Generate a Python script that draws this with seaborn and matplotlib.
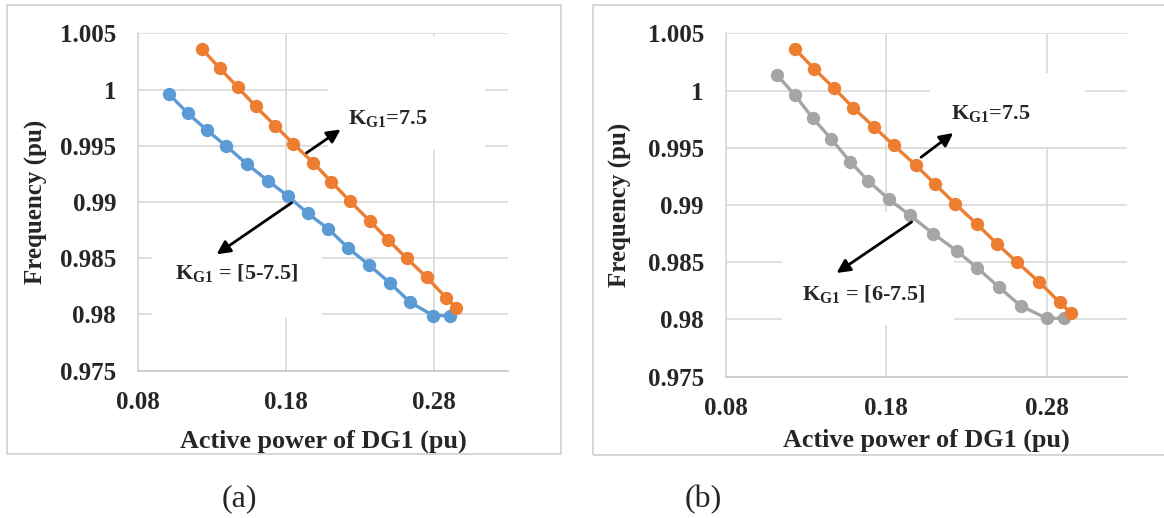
import matplotlib
matplotlib.use("Agg")
import matplotlib.pyplot as plt
from matplotlib.patches import Rectangle
import pandas as pd
import seaborn as sns

# ---- data -------------------------------------------------------------
# droop characteristic with fixed gain K_G1 = 7.5 (shared by both panels)
p_fixed = [0.1232, 0.1350, 0.1474, 0.1594, 0.1725, 0.1848, 0.1983, 0.2106,
           0.2230, 0.2368, 0.2492, 0.2616, 0.2752, 0.2882, 0.2950]
f_fixed = [1.0036, 1.0019, 1.0002, 0.9985, 0.9968, 0.9952, 0.9935, 0.9918,
           0.9901, 0.9883, 0.9866, 0.9850, 0.9833, 0.9815, 0.9806]

# adaptive gain K_G1 in [5, 7.5]
p_adapt_a = [0.1008, 0.1134, 0.1263, 0.1393, 0.1533, 0.1676, 0.1815, 0.1946,
             0.2086, 0.2221, 0.2361, 0.2503, 0.2638, 0.2796, 0.2909]
f_adapt_a = [0.9996, 0.9979, 0.9964, 0.9950, 0.9934, 0.9919, 0.9905, 0.9890,
             0.9876, 0.9859, 0.9844, 0.9828, 0.9811, 0.9799, 0.9799]

# adaptive gain K_G1 in [6, 7.5]
p_adapt_b = [0.1116, 0.1230, 0.1341, 0.1455, 0.1574, 0.1688, 0.1817, 0.1948,
             0.2093, 0.2239, 0.2368, 0.2505, 0.2638, 0.2801, 0.2909]
f_adapt_b = [1.0014, 0.9996, 0.9976, 0.9958, 0.9938, 0.9921, 0.9905, 0.9891,
             0.9875, 0.9860, 0.9845, 0.9828, 0.9812, 0.9801, 0.9801]

x_ticks = [0.08, 0.18, 0.28]
x_tick_labels = ["0.08", "0.18", "0.28"]
y_ticks = [0.975, 0.98, 0.985, 0.99, 0.995, 1.0, 1.005]
y_tick_labels = ["0.975", "0.98", "0.985", "0.99", "0.995", "1", "1.005"]

label_fixed = r"K$_{\mathbf{G1}}$=7.5"
label_a = r"K$_{\mathbf{G1}}$ = [5-7.5]"
label_b = r"K$_{\mathbf{G1}}$ = [6-7.5]"

# ---- style ------------------------------------------------------------
sns.set_theme(style="whitegrid")
plt.rcParams["font.family"] = ["Liberation Serif", "DejaVu Serif"]
plt.rcParams["mathtext.fontset"] = "custom"
plt.rcParams["mathtext.rm"] = "Liberation Serif:bold"
plt.rcParams["mathtext.bf"] = "Liberation Serif:bold"
plt.rcParams["mathtext.it"] = "Liberation Serif:bold"

BLUE = "#5b9bd5"
ORANGE = "#ed7d31"
GRAY = "#a5a5a5"
GRID = "#d9d9d9"

fig = plt.figure(figsize=(11.64, 5.18), dpi=100)
fig.patch.set_facecolor("white")

# outer chart frames
for x0, y0, w, h in [(0.0063, 0.1230, 0.4757, 0.8674),
                     (0.5094, 0.1216, 0.5100, 0.8687)]:
    fig.add_artist(Rectangle((x0, y0), w, h, transform=fig.transFigure,
                             facecolor="none", edgecolor="#d6d6d6", lw=1.4))

ax_a = fig.add_axes([0.1188, 0.2844, 0.3174, 0.6513])
ax_b = fig.add_axes([0.6237, 0.2728, 0.3442, 0.6629])


def draw_series(ax, p, f, color):
    df = pd.DataFrame({"p": p, "f": f})
    sns.lineplot(data=df, x="p", y="f", ax=ax, color=color, marker="o",
                 markersize=9.6, markeredgewidth=0, linewidth=2.4,
                 estimator=None, legend=False, zorder=3)


def style_axes(ax, ylabel_x, xlabel_y):
    ax.set_xlim(0.08, 0.33)
    ax.set_ylim(0.975, 1.005)
    ax.set_xticks(x_ticks)
    ax.set_xticklabels(x_tick_labels)
    ax.set_yticks(y_ticks)
    ax.set_yticklabels(y_tick_labels)
    ax.grid(True, color=GRID, lw=1.2)
    ax.set_axisbelow(True)
    ax.set_facecolor("white")
    for side in ("top", "right"):
        ax.spines[side].set_visible(False)
    ax.spines["left"].set_color(GRID)
    ax.spines["left"].set_linewidth(1.2)
    ax.spines["bottom"].set_color("#c8c8c8")
    ax.spines["bottom"].set_linewidth(1.2)
    ax.tick_params(axis="y", length=0, pad=16.0, labelsize=18)
    ax.tick_params(axis="x", length=0, pad=14.5, labelsize=18)
    for lab in ax.get_xticklabels() + ax.get_yticklabels():
        lab.set_fontweight("bold")
    ax.set_xlabel("Active power of DG1 (pu)", fontsize=18.8, fontweight="bold")
    ax.set_ylabel("Frequency (pu)", fontsize=18, fontweight="bold")
    ax.xaxis.set_label_coords(0.5, xlabel_y)
    ax.xaxis.label.set_va("top")
    ax.yaxis.set_label_coords(ylabel_x, 0.5)


def white_box(ax, x0, y0, x1, y1):
    # white text-box background that hides the gridlines behind a label
    ax.add_patch(Rectangle((x0, y0), x1 - x0, y1 - y0, transform=ax.transAxes,
                           facecolor="white", edgecolor="none", zorder=1))


def label_with_arrow(ax, text, text_xy, tail, head):
    ax.text(*text_xy, text, fontsize=16, fontweight="bold", ha="center",
            va="center", zorder=5)
    ax.annotate("", xy=head, xytext=tail,
                arrowprops=dict(arrowstyle="-|>", color="black", lw=2.0,
                                mutation_scale=20, shrinkA=0, shrinkB=0),
                zorder=5)


# ---- panel (a) -------------------------------------------------------
style_axes(ax_a, -0.2445, -0.1743)
white_box(ax_a, 0.5135, 0.6541, 0.9386, 0.9920)
white_box(ax_a, 0.0371, 0.1562, 0.4973, 0.4911)
draw_series(ax_a, p_adapt_a, f_adapt_a, BLUE)
draw_series(ax_a, p_fixed, f_fixed, ORANGE)
label_with_arrow(ax_a, label_fixed, (0.2486, 0.99741),
                 (0.1939, 0.99437), (0.2169, 0.99645))
label_with_arrow(ax_a, label_a, (0.1468, 0.98373),
                 (0.1838, 0.98993), (0.1330, 0.98535))

# ---- panel (b) -------------------------------------------------------
style_axes(ax_b, -0.2346, -0.1523)
white_box(ax_b, 0.5091, 0.6689, 0.8959, 0.8844)
white_box(ax_b, 0.1398, 0.1506, 0.5690, 0.4796)
draw_series(ax_b, p_adapt_b, f_adapt_b, GRAY)
draw_series(ax_b, p_fixed, f_fixed, ORANGE)
label_with_arrow(ax_b, label_fixed, (0.2453, 0.99797),
                 (0.2017, 0.99417), (0.2218, 0.99629))
label_with_arrow(ax_b, label_b, (0.1661, 0.98224),
                 (0.1958, 0.98851), (0.1490, 0.98406))

# ---- captions ------------------------------------------------------------
fig.text(0.2053, 0.0367, "(a)", fontsize=23, ha="center", va="center")
fig.text(0.6040, 0.0347, "(b)", fontsize=23, ha="center", va="center")

fig.savefig("out.png", dpi=100, facecolor="white")
